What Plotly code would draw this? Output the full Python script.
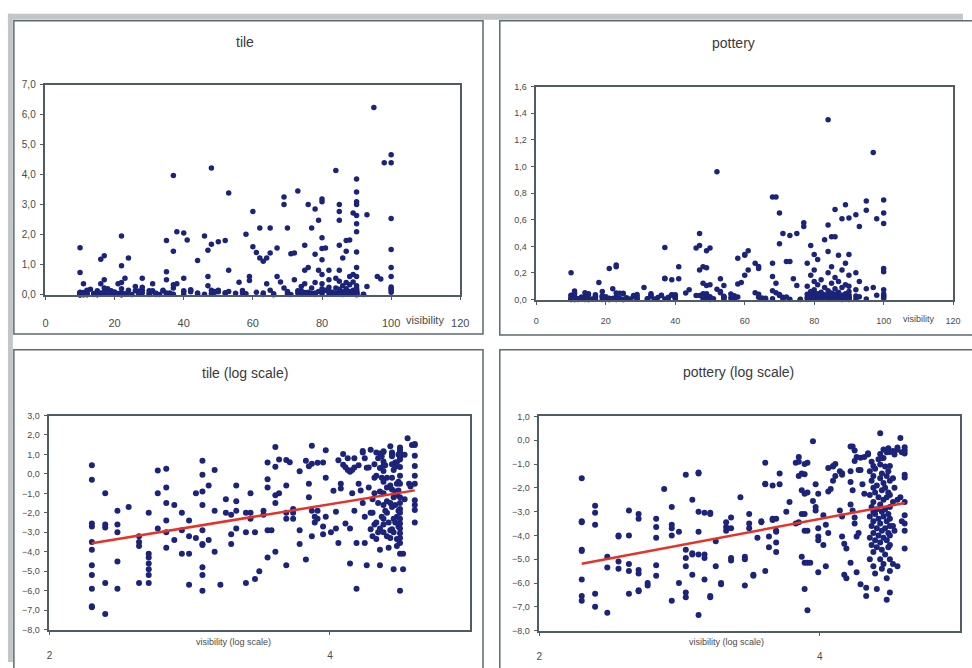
import numpy as np
import plotly.graph_objects as go

# ---------------------------------------------------------------------------
# Data: visibility (%) of each collection unit and ln(density) of finds
# ---------------------------------------------------------------------------
tile_visibility = [
    10, 10, 10, 10, 10, 10, 10, 10, 10, 10, 10,
    11, 11, 11, 11, 11,
    12, 12, 12, 12, 12,
    13,
    14, 14, 14, 14,
    15, 15, 15, 15, 15, 15, 15,
    16, 16, 16,
    17, 17, 17, 17, 17, 17,
    18, 18,
    19, 19, 19,
    20, 20, 20, 20,
    21, 21,
    22, 22, 22, 22, 22, 22, 22, 22, 22, 22,
    23, 23,
    24, 24, 24,
    25,
    26, 26,
    27, 27, 27,
    28, 28, 28, 28,
    30, 30, 30,
    31, 31, 31,
    32, 32,
    33,
    34, 34,
    35, 35, 35, 35, 35,
    36,
    37, 37, 37, 37, 37,
    38, 38,
    40, 40, 40, 40, 40,
    41,
    42, 42, 42,
    44, 44, 44,
    46, 46,
    47, 47, 47,
    48, 48, 48, 48,
    49, 49,
    50, 50, 50,
    52, 52, 52,
    53, 53, 53,
    55,
    56,
    57, 57,
    58, 58,
    59, 59,
    60, 60,
    61, 61,
    62, 62,
    63, 63, 63,
    64, 64,
    65, 65, 65,
    66, 66,
    67, 67,
    68,
    69, 69, 69,
    70, 70, 70,
    71, 71,
    72, 72,
    73, 73, 73,
    74, 74, 74,
    75, 75, 75, 75,
    76, 76, 76, 76,
    77, 77, 77,
    78, 78, 78, 78, 78, 78,
    79, 79, 79,
    80, 80, 80, 80, 80, 80, 80, 80, 80, 80, 80,
    81, 81,
    82, 82, 82, 82, 82,
    83, 83,
    84, 84, 84, 84, 84,
    85, 85, 85, 85, 85, 85, 85, 85,
    86, 86, 86, 86, 86,
    87, 87, 87, 87, 87,
    88, 88, 88, 88, 88, 88,
    89, 89, 89, 89, 89, 89,
    90, 90, 90, 90, 90, 90, 90, 90, 90, 90, 90,
    90, 90, 90, 90, 90, 90, 90, 90, 90, 90, 90,
    92, 92,
    93, 93,
    95,
    96,
    97,
    98,
    100, 100, 100, 100, 100, 100, 100, 100, 100, 100,
]
tile_log_density = [
    0.45, -0.30, -2.55, -2.70, -3.50, -3.90, -4.70, -5.20, -5.90, -6.80, -6.85,
    -2.75, -2.60, -1.00, -7.20, -5.60,
    -4.50, -5.90, -1.90, -2.60, -3.00,
    -1.70,
    -3.20, -3.50, -3.70, -5.60,
    -2.00, -4.10, -4.30, -4.60, -4.90, -5.20, -5.60,
    -2.80, -1.00, 0.17,
    -3.80, -0.70, -1.50, 0.26, -2.40, -3.00,
    -1.60, -3.40,
    -2.00, -2.90, -4.10,
    -5.70, -4.10, -3.20, -2.40,
    -1.00, -3.30,
    0.67, -0.04, -0.90, -1.60, -2.90, -3.60, -6.00, -3.65, -5.20, -4.80,
    -0.60, -3.40,
    0.20, -1.90, -4.00,
    -5.70,
    -1.30, -2.00,
    -2.10, -3.10, -3.60,
    -0.60, -1.90, -1.40, -2.80,
    -5.60, -2.00, -3.00,
    -1.00, -2.00, -2.30,
    -5.40, -3.00,
    -5.00,
    -2.10, -1.90,
    0.59, -0.27, -2.90, -4.30, -0.70,
    -2.90,
    1.38, 0.37, -4.00, -1.50, -1.10,
    0.74, -1.00,
    0.72, -2.00, -2.30, -4.70, -0.60,
    0.60,
    -1.80, -2.00, -2.30,
    0.13, -2.90, -3.60,
    0.67, -4.40,
    0.39, -0.50, -1.20,
    1.44, 0.52, -1.90, -3.20,
    -2.50, -2.20,
    0.57, -1.90, -2.30,
    0.59, -2.70, -3.10,
    1.22, -0.20, -2.20,
    -3.00,
    -0.87,
    -1.95, -2.80,
    0.70, -3.55,
    -0.50, -0.75,
    1.02, 0.47,
    0.34, -2.55,
    0.20, 0.80,
    0.11, -4.60, -2.80,
    0.20, -1.00,
    0.80, 0.33, -1.90,
    -5.90, -3.55,
    0.44, -0.50,
    -0.85,
    1.18, 1.10, -1.50,
    0.80, -3.55, -2.20,
    0.31, -4.70,
    0.33, -0.70,
    1.24, -2.00, -2.85,
    -3.20, -1.30, -2.00,
    -1.00, -0.20, 0.50, -2.60,
    1.10, -2.50, -3.35, -0.10,
    -1.50, 0.80, -3.00,
    1.05, -3.90, -4.70, 0.30, -0.90, -2.80,
    0.91, -2.20, -0.20,
    1.16, 1.13, 0.64, 0.43, -3.00, -1.00, 0.15, -0.40, -1.60, -2.30, -2.60,
    -1.90, 0.44,
    -0.70, -3.20, -1.40, -0.20, -2.00,
    -2.50, -3.80,
    1.42, -1.50, -0.60, -2.90, -3.30,
    1.10, 1.02, 0.91, -0.20, -2.85, -1.70, 0.50, -0.80,
    -4.90, -1.20, -2.30, 0.20, -3.00,
    0.59, 0.37, -0.90, -1.60, -2.50,
    -2.20, -3.35, -1.10, 0.60, -0.50, -3.70,
    -0.40, -0.85, -2.70, 1.00, -1.90, -3.40,
    1.35, 1.23, 1.13, 1.10, 0.86, 0.97, 0.74, 0.35, -0.10, -0.50, -1.50,
    -2.00, -2.55, -3.05, -3.55, -4.10, -6.00, -1.20, -1.80, -2.30, -2.80, -3.30,
    -4.10, -4.90,
    0.98, -1.30,
    1.83,
    -0.50,
    -0.65,
    1.48,
    1.54, 1.48, 0.93, 0.41, -0.50, -1.35, -1.60, -1.85, -2.50, -0.10,
]

pottery_visibility = [
    10, 10, 10, 10, 10, 10, 10, 10,
    11, 11, 11, 11, 11,
    12, 12, 12,
    13, 13, 13, 13,
    14, 14, 14, 14, 14,
    15, 15, 15, 15, 15, 15,
    16, 16,
    17, 17, 17, 17, 17,
    18,
    19, 19, 19, 19, 19,
    20, 20,
    21, 21, 21, 21, 21, 21,
    22, 22, 22, 22,
    23, 23, 23, 23, 23, 23,
    24, 24, 24, 24,
    25, 25, 25, 25,
    26, 26,
    27, 27,
    28, 28, 28,
    29, 29, 29, 29,
    31,
    32, 32, 32,
    33, 33, 33,
    34, 34,
    35,
    36, 36,
    37, 37, 37, 37,
    38, 38,
    39, 39, 39,
    40, 40, 40, 40, 40,
    41, 41,
    43,
    44,
    46, 46,
    47, 47, 47, 47,
    48, 48, 48, 48,
    49, 49, 49, 49, 49, 49, 49,
    50, 50, 50, 50, 50,
    51,
    52, 52,
    53, 53, 53,
    54, 54, 54, 54, 54,
    56, 56,
    57, 57,
    58, 58, 58,
    59,
    60, 60, 60,
    61, 61,
    63, 63,
    64, 64, 64, 64,
    65, 65,
    66, 66,
    68, 68, 68, 68, 68,
    69, 69, 69,
    70, 70, 70, 70,
    71, 71, 71,
    72, 72,
    73, 73, 73,
    74,
    75, 75,
    76, 76,
    77, 77,
    78, 78, 78, 78, 78,
    79, 79, 79, 79, 79,
    80, 80, 80, 80, 80, 80, 80, 80, 80,
    81, 81, 81, 81, 81,
    82, 82, 82, 82, 82,
    83, 83, 83, 83,
    84, 84, 84, 84, 84, 84, 84, 84,
    85, 85, 85, 85, 85, 85, 85,
    86, 86, 86, 86, 86, 86, 86,
    87, 87, 87, 87, 87,
    88, 88, 88, 88, 88, 88, 88,
    89, 89, 89, 89, 89, 89,
    90, 90, 90, 90, 90, 90, 90, 90, 90, 90, 90, 90,
    92, 92, 92, 92, 92,
    93, 93, 93,
    95, 95, 95, 95,
    97, 97,
    98, 98,
    100, 100, 100, 100, 100, 100, 100, 100, 100, 100,
]
pottery_log_density = [
    -1.60, -3.40, -3.45, -4.60, -4.65, -5.85, -6.55, -6.75,
    -2.75, -3.05, -3.55, -6.45, -7.00,
    -7.25, -4.90, -5.35,
    -4.00, -4.05, -5.10, -5.40,
    -2.95, -4.00, -5.20, -5.50, -6.45,
    -3.10, -3.30, -5.45, -5.60, -6.35, -6.30,
    -6.00, -6.10,
    -4.10, -5.25, -3.30, -3.65, -5.70,
    -2.05,
    -2.80, -3.55, -3.70, -4.00, -6.75,
    -6.00, -3.85,
    -4.60, -4.95, -5.30, -6.40, -6.60, -1.45,
    -2.50, -4.75, -4.80, -5.65,
    -4.80, -1.35, -1.40, -3.00, -3.85, -7.35,
    -4.80, -3.05, -4.95, -5.85,
    -6.55, -6.60, -3.05, -3.10,
    -4.25, -5.30,
    -6.05, -6.00,
    -3.45, -3.65, -3.80,
    -3.25, -3.70, -5.05, -4.95,
    -2.40,
    -4.90, -5.00, -6.10,
    -3.10, -3.70, -3.50,
    -5.65, -5.70,
    -4.10,
    -3.45, -3.40,
    -1.85, -1.83, -5.50, -0.94,
    -4.50, -4.05,
    -3.30, -3.35, -1.90,
    -3.30, -3.80, -3.85, -4.30, -4.70,
    -1.40, -1.85,
    -3.00,
    -2.60,
    -3.50, -0.95,
    -3.45, -0.90, -1.50, -0.70,
    -1.40, -2.10, -3.10, -4.90,
    -2.25, -1.00, -1.43, -3.10, -3.80, -5.15, -6.25,
    -0.95, -2.20, -3.80, -5.15, -7.15,
    -5.15,
    -0.04, -2.55,
    -1.85, -2.80, -2.95,
    -2.25, -3.70, -4.05, -4.20, -5.55,
    -3.15, -4.40,
    -3.55, -5.30,
    -3.90, -2.15, -1.17,
    -2.05,
    -1.10, -1.70, -1.08,
    -1.00, -1.50,
    -1.30, -2.95,
    -1.45, -3.20, -4.05, -1.39,
    -4.35, -5.65,
    -4.55, -5.80,
    -0.26, -1.75, -2.70, -5.15, -1.30,
    -0.26, -2.10, -2.95,
    -0.43, -0.87, -3.50, -3.25,
    -0.70, -4.05, -5.55,
    -1.25, -3.90,
    -0.73, -1.25, -6.05,
    -1.85,
    -0.70, -2.25,
    -6.20, -6.55,
    -0.60, -0.55,
    -1.30, -2.30, -3.20, -4.10, -5.00,
    -0.90, -1.70, -2.80, -3.60, -4.40,
    -1.08, -1.50, -2.00, -2.60, -3.00, -3.40, -3.90, -4.70, -5.30,
    -1.20, -2.20, -3.10, -4.20, -5.60,
    -1.90, -2.90, -3.70, -4.50, -6.25,
    -0.80, -2.40, -3.30, -4.00,
    0.30, -0.58, -1.02, -1.60, -2.70, -3.50, -4.30, -5.00,
    -0.75, -1.40, -2.10, -3.00, -3.80, -4.60, -5.40,
    -0.39, -0.75, -1.80, -2.50, -3.20, -4.10, -5.20,
    -1.10, -2.00, -2.90, -3.70, -4.80,
    -0.50, -1.50, -2.40, -3.40, -4.20, -5.80, -6.70,
    -0.34, -1.30, -2.20, -3.10, -3.90, -4.50,
    -0.49, -1.08, -1.70, -2.30, -2.80, -3.30, -3.60, -4.00, -4.40, -5.00, -5.50, -6.40,
    -0.45, -1.60, -2.60, -3.60, -5.20,
    -0.60, -2.00, -3.80,
    -0.30, -0.40, -2.50, -5.30,
    0.10, -2.40,
    -0.50, -3.40,
    -0.29, -0.43, -0.56, -1.45, -1.56, -2.60, -3.15, -3.50, -3.80, -4.55,
]

# Linear trend lines fitted in ln-ln space: ln(density) = slope * ln(visibility) + intercept
tile_trend_slope, tile_trend_intercept = 1.18, -6.28
pottery_trend_slope, pottery_trend_intercept = 1.108, -7.74

panel_titles = ["tile", "pottery", "tile (log scale)", "pottery (log scale)"]
raw_axis_title = "visibility"
log_axis_title = "visibility (log scale)"

assert len(tile_visibility) == len(tile_log_density)
assert len(pottery_visibility) == len(pottery_log_density)

# ---------------------------------------------------------------------------
# Figure geometry (pixels converted to paper fractions)
# ---------------------------------------------------------------------------
W, H = 972, 668


def fx(px):
    return px / W


def fy(py):
    return 1 - py / H


FONT = "Liberation Sans, Arial, sans-serif"
NAVY = "#1b237a"
RED = "#e53329"
FRAME = "#4f5d62"
TEXT = "#3a3a3a"

tile_vis = np.array(tile_visibility, dtype=float)
tile_ln = np.array(tile_log_density, dtype=float)
pot_vis = np.array(pottery_visibility, dtype=float)
pot_ln = np.array(pottery_log_density, dtype=float)

fig = go.Figure()

marker_raw = dict(symbol="circle", size=5.5, color=NAVY, line=dict(width=0))
marker_log = dict(symbol="circle", size=6, color=NAVY, line=dict(width=0))

fig.add_trace(go.Scatter(x=tile_vis, y=np.exp(tile_ln), mode="markers",
                         marker=marker_raw, xaxis="x", yaxis="y", cliponaxis=False))
fig.add_trace(go.Scatter(x=pot_vis, y=np.exp(pot_ln), mode="markers",
                         marker=marker_raw, xaxis="x2", yaxis="y2", cliponaxis=False))
fig.add_trace(go.Scatter(x=np.log(tile_vis), y=tile_ln, mode="markers",
                         marker=marker_log, xaxis="x3", yaxis="y3"))
fig.add_trace(go.Scatter(x=np.log(pot_vis), y=pot_ln, mode="markers",
                         marker=marker_log, xaxis="x4", yaxis="y4"))

tx = np.log([tile_vis.min(), tile_vis.max()])
fig.add_trace(go.Scatter(x=tx, y=tile_trend_slope * tx + tile_trend_intercept,
                         mode="lines", line=dict(color=RED, width=2.5),
                         xaxis="x3", yaxis="y3"))
px_ = np.log([pot_vis.min(), pot_vis.max()])
fig.add_trace(go.Scatter(x=px_, y=pottery_trend_slope * px_ + pottery_trend_intercept,
                         mode="lines", line=dict(color=RED, width=2.5),
                         xaxis="x4", yaxis="y4"))


def axis(x0, x1, rng, dtick, anchor, size, standoff, fmt=None):
    d = dict(domain=[x0, x1], range=rng, dtick=dtick, tick0=rng[0], anchor=anchor,
             showline=True, mirror=True, linecolor=FRAME, linewidth=1.5,
             showgrid=False, zeroline=False, ticks="outside", ticklen=4,
             tickcolor=FRAME, tickwidth=1,
             tickfont=dict(family=FONT, size=size, color="#4a4a4a"),
             ticklabelstandoff=standoff, fixedrange=True)
    if fmt:
        d["tickformat"] = fmt
    return d


# plot-area rectangles (left, top, right, bottom) in pixels
areas = {
    1: (43, 80, 463, 294),
    2: (540, 82, 962, 299),
    3: (47, 417, 473, 635),
    4: (543, 418, 969, 636),
}

layout = dict(
    width=W, height=H, autosize=False,
    margin=dict(l=0, r=0, t=0, b=0),
    paper_bgcolor="white", plot_bgcolor="white",
    showlegend=False, separators=",.",
)

specs = {
    1: dict(xr=[0, 120], xd=20, yr=[0, 7], yd=1, xs=11, ys=10, xsd=13, ysd=2),
    2: dict(xr=[0, 120], xd=20, yr=[0, 1.6], yd=0.2, xs=9, ys=9, xsd=8, ysd=2),
    3: dict(xr=[2, 5], xd=2, yr=[-8, 3], yd=1, xs=10, ys=9, xsd=12, ysd=2),
    4: dict(xr=[2, 5], xd=2, yr=[-8, 1], yd=1, xs=10, ys=9, xsd=12, ysd=2),
}

for i, (l, t, r, b) in areas.items():
    s = specs[i]
    xa = "xaxis" if i == 1 else f"xaxis{i}"
    ya = "yaxis" if i == 1 else f"yaxis{i}"
    xid = "x" if i == 1 else f"x{i}"
    yid = "y" if i == 1 else f"y{i}"
    layout[xa] = axis(fx(l), fx(r), s["xr"], s["xd"], yid, s["xs"], s["xsd"])
    layout[ya] = axis(fy(b), fy(t), s["yr"], s["yd"], xid, s["ys"], s["ysd"], fmt=".1f")

fig.update_layout(**layout)

# Outer chart frames and the grey sheet edge
shapes = [
    dict(type="rect", xref="paper", yref="paper", x0=fx(5), x1=fx(972), y0=fy(14), y1=fy(8),
         fillcolor="#c3c6c7", line=dict(width=0), layer="below"),
    dict(type="rect", xref="paper", yref="paper", x0=fx(5), x1=fx(10), y0=fy(668), y1=fy(8),
         fillcolor="#c3c6c7", line=dict(width=0), layer="below"),
]
panels = [(11, 15, 486, 334), (503, 15, 990, 335), (11, 350, 486, 700), (503, 350, 990, 700)]
for (l, t, r, b) in panels:
    shapes.append(dict(type="rect", xref="paper", yref="paper",
                       x0=fx(l), x1=fx(r), y0=fy(b), y1=fy(t),
                       line=dict(color="#5c6b70", width=1.5), layer="below"))
fig.update_layout(shapes=shapes)

# Chart titles and axis titles
ann = []
title_pos = [(245, 37), (740, 38), (245, 374), (745, 373)]
for text, (x, y) in zip(panel_titles, title_pos):
    ann.append(dict(text=text, x=fx(x), y=fy(y), xref="paper", yref="paper",
                    showarrow=False, xanchor="center", yanchor="middle",
                    font=dict(family=FONT, size=14, color=TEXT)))
for (x, y, size) in [(427, 320, 11), (927, 319, 9)]:
    ann.append(dict(text=raw_axis_title, x=fx(x), y=fy(y), xref="paper", yref="paper",
                    showarrow=False, xanchor="center", yanchor="middle",
                    font=dict(family=FONT, size=size, color="#4a4a4a")))
for (x, y) in [(233, 648), (733, 648)]:
    ann.append(dict(text=log_axis_title, x=fx(x), y=fy(y), xref="paper", yref="paper",
                    showarrow=False, xanchor="center", yanchor="middle",
                    font=dict(family=FONT, size=9, color="#4a4a4a")))
fig.update_layout(annotations=ann)

fig.write_html("out.html")
